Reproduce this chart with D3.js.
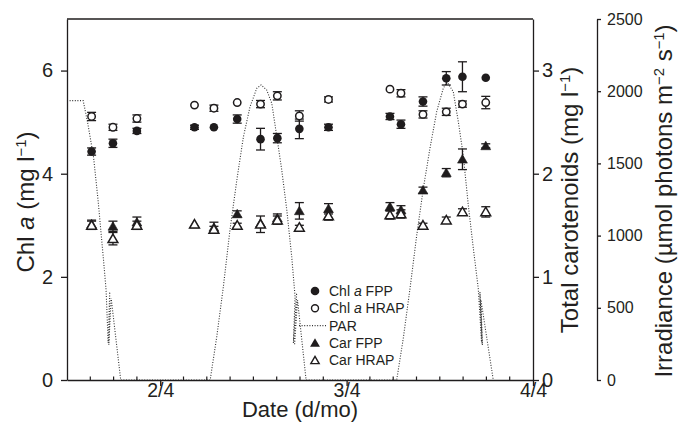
<!DOCTYPE html>
<html>
<head>
<meta charset="utf-8">
<script src="https://cdn.jsdelivr.net/npm/d3@7"></script>
<style>
  html, body { margin: 0; padding: 0; background: #fff; }
  svg text { font-family: "Liberation Sans", Arial, Helvetica, sans-serif; fill: #231f20; }
</style>
</head>
<body>
<svg id="chart" width="684" height="438"></svg>
<script>
// Sampling times (day/month hour:minute)
const sampleTimes = [
  "1/4 15:10", "1/4 17:55", "1/4 21:00",
  "2/4 04:25", "2/4 06:55", "2/4 09:55", "2/4 12:55", "2/4 15:05", "2/4 17:55", "2/4 21:40",
  "3/4 05:35", "3/4 07:00", "3/4 09:50", "3/4 12:50", "3/4 14:55", "3/4 17:55"
];

// Chlorophyll a (mg l-1), mean and error
const chlFPP    = [4.43, 4.59, 4.83, 4.90, 4.90, 5.06, 4.67, 4.69, 4.87, 4.90, 5.11, 4.96, 5.40, 5.85, 5.88, 5.86];
const chlFPPErr = [0.07, 0.08, 0.05, 0.04, 0.00, 0.08, 0.21, 0.09, 0.19, 0.06, 0.06, 0.08, 0.09, 0.13, 0.29, 0.00];
const chlHRAP    = [5.11, 4.90, 5.07, 5.33, 5.27, 5.38, 5.35, 5.51, 5.12, 5.44, 5.64, 5.56, 5.15, 5.20, 5.35, 5.38];
const chlHRAPErr = [0.08, 0.06, 0.07, 0.00, 0.06, 0.00, 0.07, 0.08, 0.10, 0.05, 0.00, 0.07, 0.07, 0.07, 0.06, 0.12];

// Total carotenoids (mg l-1), mean and error
const carFPP    = [1.51, 1.49, 1.53, 1.51, 1.48, 1.61, 1.52, 1.57, 1.64, 1.66, 1.68, 1.65, 1.84, 2.01, 2.14, 2.27];
const carFPPErr = [0.04, 0.05, 0.05, 0.00, 0.05, 0.03, 0.00, 0.04, 0.08, 0.05, 0.04, 0.04, 0.03, 0.04, 0.10, 0.02];
const carHRAP    = [1.50, 1.37, 1.50, 1.51, 1.46, 1.50, 1.51, 1.55, 1.48, 1.59, 1.60, 1.61, 1.50, 1.55, 1.63, 1.63];
const carHRAPErr = [0.04, 0.06, 0.04, 0.00, 0.03, 0.02, 0.08, 0.04, 0.02, 0.04, 0.04, 0.04, 0.02, 0.03, 0.03, 0.05];

// PAR logger record (µmol photons m-2 s-1), in recorded order
const parTimes = [
  "1/4 12:00", "1/4 14:05", "1/4 14:40", "1/4 15:25", "1/4 16:00", "1/4 16:40", "1/4 17:02",
  "1/4 17:18", "1/4 17:30", "1/4 17:23", "1/4 17:41", "1/4 18:55",
  "2/4 06:26", "2/4 07:17", "2/4 08:08", "2/4 08:59", "2/4 09:52", "2/4 10:43", "2/4 11:34",
  "2/4 12:26", "2/4 12:59", "2/4 13:43", "2/4 14:22", "2/4 15:01", "2/4 15:39", "2/4 16:18",
  "2/4 16:56", "2/4 17:22", "2/4 17:09", "2/4 17:34", "2/4 17:18", "2/4 17:41", "2/4 18:47",
  "3/4 06:27", "3/4 07:18", "3/4 08:10", "3/4 09:02", "3/4 09:53", "3/4 10:44", "3/4 11:36",
  "3/4 12:27", "3/4 12:56", "3/4 13:44", "3/4 14:23", "3/4 15:01", "3/4 15:40", "3/4 16:19",
  "3/4 16:57", "3/4 17:23", "3/4 17:10", "3/4 17:29", "3/4 17:18", "3/4 18:53"
];
const parValues = [
  1935, 1935, 1780, 1545, 1245, 852, 623,
  256, 609, 242, 568, 0,
  0, 300, 646, 1039, 1385, 1685, 1893,
  2020, 2043, 2008, 1916, 1685, 1454, 1177,
  854, 577, 256, 602, 242, 554, 0,
  0, 289, 635, 1004, 1328, 1605, 1858,
  2020, 2064, 1997, 1789, 1558, 1212, 912,
  635, 254, 609, 242, 554, 0
];

const xStart = "1/4 12:00", xEnd = "4/4 00:00";
const dateTicks = ["2/4 00:00", "3/4 00:00", "4/4 00:00"];
const chlTicks = [0, 2, 4, 6];
const carTicks = [0, 1, 2, 3];
const parTicks = [0, 500, 1000, 1500, 2000, 2500];

const legendItems = [
  { key: "chlFPP",  pre: "Chl ", it: "a", post: " FPP" },
  { key: "chlHRAP", pre: "Chl ", it: "a", post: " HRAP" },
  { key: "par",     pre: "PAR",  it: "",  post: "" },
  { key: "carFPP",  pre: "Car FPP", it: "", post: "" },
  { key: "carHRAP", pre: "Car HRAP", it: "", post: "" }
];

const parse = d3.timeParse("%d/%m %H:%M");
const ink = "#1f1c1d";

const svg = d3.select("#chart");
const L = 67, R = 533, T = 19, B = 380;

const x = d3.scaleTime().domain([parse(xStart), parse(xEnd)]).range([L, R]);
const yChl = d3.scaleLinear().domain([0, 7]).range([B, T]);
const yCar = d3.scaleLinear().domain([0, 3.5]).range([B, T]);
const yPar = d3.scaleLinear().domain([0, 2500]).range([B, T]);

// Frame top
svg.append("line").attr("x1", L).attr("x2", R).attr("y1", T).attr("y2", T)
  .attr("stroke", ink).attr("stroke-width", 1.3);

// PAR trace
const parData = parTimes.map((t, i) => ({ t: parse(t), v: parValues[i] }));
svg.append("path")
  .datum(parData)
  .attr("fill", "none")
  .attr("stroke", "#333")
  .attr("stroke-width", 1.1)
  .attr("stroke-dasharray", "1,1.6")
  .attr("d", d3.line().x(d => x(d.t)).y(d => yPar(d.v)));

// Axes
function styleAxis(g, fs) {
  g.selectAll("path, line").attr("stroke", ink).attr("stroke-width", 1.3);
  g.selectAll("text").attr("font-size", fs).attr("fill", ink)
    .attr("font-family", '"Liberation Sans", Arial, sans-serif');
}

const xAxis = svg.append("g").attr("transform", `translate(0,${B})`)
  .call(d3.axisBottom(x).tickValues(dateTicks.map(parse))
    .tickFormat(d3.timeFormat("%-d/%-m")).tickSize(6).tickSizeOuter(0));
styleAxis(xAxis, 19.5);
xAxis.selectAll("text").attr("y", 3);

// Three-hour minor ticks, pointing into the plot
const minor = d3.timeHour.every(3).range(parse(xStart), parse(xEnd))
  .filter(d => d.getHours() !== 0 && +d !== +parse(xStart));
svg.append("g").selectAll("line").data(minor).join("line")
  .attr("x1", d => x(d)).attr("x2", d => x(d))
  .attr("y1", B).attr("y2", B - 3.5)
  .attr("stroke", ink).attr("stroke-width", 1.2);

const yAxisL = svg.append("g").attr("transform", `translate(${L},0)`)
  .call(d3.axisLeft(yChl).tickValues(chlTicks).tickFormat(d3.format("d"))
    .tickSize(6).tickSizeOuter(0).tickPadding(8));
styleAxis(yAxisL, 20);

const yAxisCar = svg.append("g").attr("transform", `translate(${R},0)`)
  .call(d3.axisRight(yCar).tickValues(carTicks).tickFormat(d3.format("d"))
    .tickSize(6).tickSizeOuter(0).tickPadding(3));
styleAxis(yAxisCar, 20);

const yAxisPar = svg.append("g").attr("transform", `translate(597,0)`)
  .call(d3.axisRight(yPar).tickValues(parTicks).tickFormat(d3.format("d"))
    .tickSize(4).tickSizeOuter(0).tickPadding(6));
styleAxis(yAxisPar, 16);

// Axis titles
function supTitle(g, parts, fs) {
  const t = g.append("text").attr("text-anchor", "middle").attr("font-size", fs);
  parts.forEach(p => {
    const s = t.append("tspan").text(p.s);
    if (p.it) s.attr("font-style", "italic");
    if (p.sup) s.attr("font-size", fs * 0.62).attr("baseline-shift", "super");
  });
  return t;
}
supTitle(svg.append("g").attr("transform", "translate(34,202) rotate(-90)"),
  [{ s: "Chl " }, { s: "a", it: true }, { s: " (mg l" }, { s: "−1", sup: true }, { s: ")" }], 24);
supTitle(svg.append("g").attr("transform", "translate(578,200) rotate(-90)"),
  [{ s: "Total carotenoids (mg l" }, { s: "−1", sup: true }, { s: ")" }], 24);
supTitle(svg.append("g").attr("transform", "translate(672,201) rotate(-90)"),
  [{ s: "Irradiance (µmol photons m" }, { s: "−2", sup: true }, { s: " s" }, { s: "−1", sup: true }, { s: ")" }], 24);
supTitle(svg.append("g").attr("transform", "translate(300,417)"),
  [{ s: "Date (d/mo)" }], 22);

// Markers
const tri = d3.symbol().type(d3.symbolTriangle).size(42);
function drawSeries(vals, errs, yS, kind) {
  const data = vals.map((v, i) => ({ t: parse(sampleTimes[i]), v, e: errs[i] }));
  const g = svg.append("g");
  const eb = g.selectAll("g.eb").data(data.filter(d => d.e > 0)).join("g")
    .attr("stroke", ink).attr("stroke-width", 1.3);
  eb.append("line").attr("x1", d => x(d.t)).attr("x2", d => x(d.t))
    .attr("y1", d => yS(d.v - d.e)).attr("y2", d => yS(d.v + d.e));
  [-1, 1].forEach(s => eb.append("line")
    .attr("x1", d => x(d.t) - 4.5).attr("x2", d => x(d.t) + 4.5)
    .attr("y1", d => yS(d.v + s * d.e)).attr("y2", d => yS(d.v + s * d.e)));
  const filled = kind.endsWith("F");
  if (kind.startsWith("c")) {
    g.selectAll("circle").data(data).join("circle")
      .attr("cx", d => x(d.t)).attr("cy", d => yS(d.v))
      .attr("r", filled ? 4.3 : 3.7)
      .attr("fill", filled ? ink : "#fff")
      .attr("stroke", ink).attr("stroke-width", filled ? 0 : 1.5);
  } else {
    g.selectAll("path").data(data).join("path")
      .attr("transform", d => `translate(${x(d.t)},${yS(d.v) + 1})`)
      .attr("d", tri)
      .attr("fill", filled ? ink : "#fff")
      .attr("stroke", ink).attr("stroke-width", filled ? 0.6 : 1.5)
      .attr("stroke-linejoin", "miter");
  }
}
drawSeries(chlFPP, chlFPPErr, yChl, "cF");
drawSeries(chlHRAP, chlHRAPErr, yChl, "cO");
drawSeries(carFPP, carFPPErr, yCar, "tF");
drawSeries(carHRAP, carHRAPErr, yCar, "tO");

// Legend
const lg = svg.append("g").attr("transform", "translate(315,291)");
legendItems.forEach((item, i) => {
  const row = lg.append("g").attr("transform", `translate(0,${i * 17.3})`);
  if (item.key === "chlFPP") row.append("circle").attr("r", 4.3).attr("fill", ink);
  if (item.key === "chlHRAP") row.append("circle").attr("r", 3.5).attr("fill", "#fff").attr("stroke", ink).attr("stroke-width", 1.4);
  if (item.key === "par") row.append("line").attr("x1", -16).attr("x2", 12).attr("stroke", "#333")
    .attr("stroke-width", 1.1).attr("stroke-dasharray", "1,1.6");
  if (item.key === "carFPP") row.append("path").attr("d", tri).attr("transform", "translate(0,1)").attr("fill", ink);
  if (item.key === "carHRAP") row.append("path").attr("d", d3.symbol().type(d3.symbolTriangle).size(30))
    .attr("transform", "translate(0,1)").attr("fill", "#fff").attr("stroke", ink).attr("stroke-width", 1.4);
  const t = row.append("text").attr("x", 14).attr("y", 5).attr("font-size", 14);
  t.append("tspan").text(item.pre);
  if (item.it) t.append("tspan").attr("font-style", "italic").text(item.it);
  if (item.post) t.append("tspan").text(item.post);
});
</script>
</body>
</html>
